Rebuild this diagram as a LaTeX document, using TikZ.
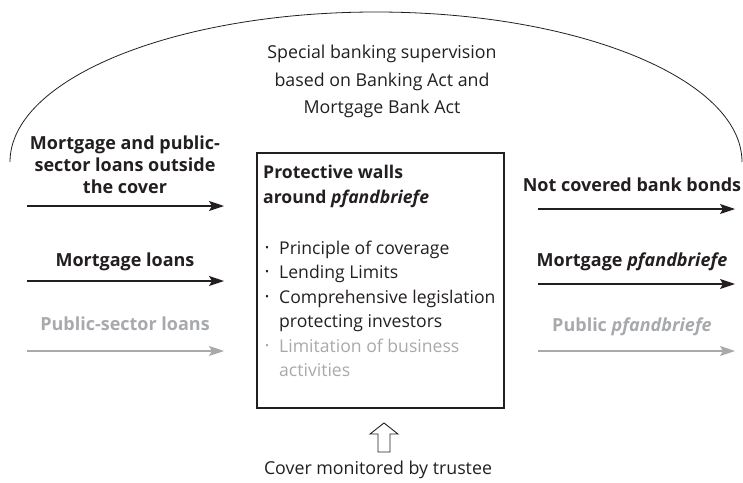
\documentclass[tikz,border=0pt]{standalone}
\usepackage{fontspec}
\setmainfont{Open Sans}
\usetikzlibrary{arrows.meta}
\definecolor{ink}{HTML}{231F20}
\definecolor{faint}{HTML}{A7A9AC}
\newcommand{\blt}{\raisebox{3pt}{\scalebox{0.6}{\textbullet}}}
\tikzset{
  lbl/.style={font=\fontsize{18}{22}\selectfont\bfseries, text=ink, inner sep=0pt, anchor=base},
  flow/.style={draw=ink, line width=1.2pt, -{Stealth[length=15pt,width=10pt,inset=3pt]}},
  gflow/.style={flow, draw=faint, fill=faint},
  plain/.style={font=\fontsize{17.8}{27}\selectfont, text=ink, inner sep=0pt, anchor=base},
  boxtxt/.style={font=\fontsize{17.6}{24}\selectfont, text=ink, inner sep=0pt, anchor=base west},
}
\begin{document}
\begin{tikzpicture}[x=1pt,y=-1pt]
\useasboundingbox (0,0) rectangle (743,482);
% supervision arc
\draw[ink, line width=0.8pt] (10,162) arc[start angle=180, end angle=0, x radius=366pt, y radius=150pt];
\node[plain] (sup1) at (382,58) {Special banking supervision};
\node[plain] (sup2) at (382,86) {based on Banking Act and};
\node[plain] (sup3) at (382,113) {Mortgage Bank Act};
% central box
\node[draw=ink, line width=1.2pt, minimum width=247pt, minimum height=255pt, inner sep=0pt] (box) at (380.5,280.5) {};
\node[boxtxt, font=\fontsize{17.6}{24}\selectfont\bfseries] (w1) at (263,178) {Protective walls};
\node[boxtxt, font=\fontsize{17.6}{24}\selectfont\bfseries] (w2) at (263,203) {around \textit{pfandbriefe}};
\node[boxtxt] (b1d) at (265,254) {\blt};
\node[boxtxt] (b1) at (279,254) {Principle of coverage};
\node[boxtxt] (b2d) at (265,278.5) {\blt};
\node[boxtxt] (b2) at (279,278.5) {Lending Limits};
\node[boxtxt] (b3d) at (265,303) {\blt};
\node[boxtxt] (b3) at (279,303) {Comprehensive legislation};
\node[boxtxt] (b3b) at (279,327.5) {protecting investors};
\node[boxtxt, text=faint] (b4d) at (265,352) {\blt};
\node[boxtxt, text=faint] (b4) at (279,352) {Limitation of business};
\node[boxtxt, text=faint] (b4b) at (279,376.5) {activities};
% left side
\node[lbl] (l1a) at (125,149) {Mortgage and public-};
\node[lbl] (l1b) at (125,171) {sector loans outside};
\node[lbl] (l1c) at (125,193) {the cover};
\coordinate (la1) at (27,206); \coordinate (lb1) at (224,206);
\draw[flow] (la1) -- (lb1);
\node[lbl] (l2) at (125,266) {Mortgage loans};
\coordinate (la2) at (27,281); \coordinate (lb2) at (224,281);
\draw[flow] (la2) -- (lb2);
\node[lbl, text=faint] (l3) at (125,330) {Public-sector loans};
\coordinate (la3) at (27,351); \coordinate (lb3) at (224,351);
\draw[gflow] (la3) -- (lb3);
% right side
\node[lbl] (r1) at (632,191) {Not covered bank bonds};
\coordinate (ra1) at (538,209); \coordinate (rb1) at (735,209);
\draw[flow] (ra1) -- (rb1);
\node[lbl] (r2) at (632,266) {Mortgage \textit{pfandbriefe}};
\coordinate (ra2) at (538,284); \coordinate (rb2) at (735,284);
\draw[flow] (ra2) -- (rb2);
\node[lbl, text=faint] (r3) at (632,331) {Public \textit{pfandbriefe}};
\coordinate (ra3) at (538,351); \coordinate (rb3) at (735,351);
\draw[gflow] (ra3) -- (rb3);
% trustee
\node[plain] (trustee) at (378,474) {Cover monitored by trustee};
\coordinate (up) at (384,423);
\draw[ink, line width=0.9pt, line join=miter] (up) -- ++(14,11) -- ++(-8,0) -- ++(0,18) -- ++(-12,0) -- ++(0,-18) -- ++(-8,0) -- cycle;
\end{tikzpicture}
\end{document}
